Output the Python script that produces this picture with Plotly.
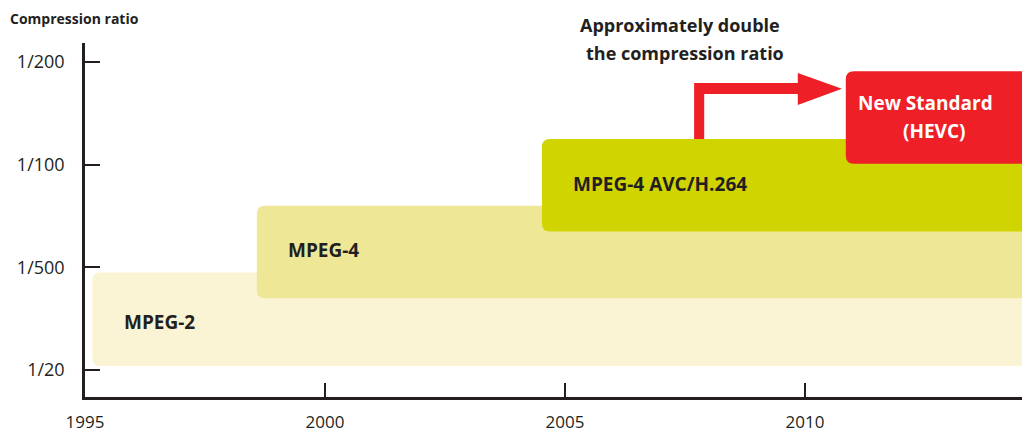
import plotly.graph_objects as go

# ---- data ----
standards = ["MPEG-2", "MPEG-4", "MPEG-4 AVC/H.264", "New Standard", "(HEVC)"]
start_year = [1995.15, 1998.58, 2004.52, 2010.85]
end_year = [2016.0, 2016.0, 2016.0, 2016.0]
level_low = [0.04, 0.70, 1.35, 2.01]
level_high = [0.95, 1.60, 2.25, 2.91]
fill_colors = ["#FAF4D4", "#EEE896", "#D0D400", "#EE1F26"]

y_tickvals = [0, 1, 2, 3]
y_ticktext = ["1/20", "1/500", "1/100", "1/200"]
x_tickvals = [1995, 2000, 2005, 2010]
x_ticktext = ["1995", "2000", "2005", "2010"]

# label positions (year, level)
label_x = [1995.77, 1999.19, 2005.13, 2012.50, 2012.70]
label_y = [0.47, 1.17, 1.81, 2.60, 2.33]

# window layout (the page body adds an 8px offset)
OFF = 8
AX_L, AX_R, AX_T, AX_B = 85, 1030, 43, 397
W, H = 1030 - OFF, 433 - OFF
ML, MR, MT, MB = AX_L - OFF, 0, AX_T - OFF, 433 - AX_B
px_per_year = 48.0
px_per_level = 102.67
x_range = [1995, 1995 + (AX_R - AX_L) / px_per_year]
y_range = [-(AX_B - 370) / px_per_level, 3 + (62 - AX_T) / px_per_level]

RX = 8 / px_per_year
RY = 8 / px_per_level


def paper_x(px):
    return (px - AX_L) / (AX_R - AX_L)


def paper_y(py):
    return (AX_B - py) / (AX_B - AX_T)


def rounded_rect(x0, x1, y0, y1, rx=RX, ry=RY):
    return (
        f"M {x0 + rx},{y0} L {x1 - rx},{y0} Q {x1},{y0} {x1},{y0 + ry} "
        f"L {x1},{y1 - ry} Q {x1},{y1} {x1 - rx},{y1} "
        f"L {x0 + rx},{y1} Q {x0},{y1} {x0},{y1 - ry} "
        f"L {x0},{y0 + ry} Q {x0},{y0} {x0 + rx},{y0} Z"
    )


fig = go.Figure()
fig.add_trace(go.Scatter(x=[1995, 2014], y=[0, 3], mode="markers",
                         marker=dict(opacity=0), hoverinfo="skip", showlegend=False))

shapes = []
for i in range(4):
    shapes.append(dict(type="path", xref="x", yref="y", layer="below",
                       path=rounded_rect(start_year[i], end_year[i], level_low[i], level_high[i]),
                       fillcolor=fill_colors[i], line=dict(width=0)))

# arrow from AVC block to the new standard
sx0, sx1 = 2007.69, 2007.90
bar_lo, bar_hi = 2.688, 2.795
head_x0, tip_x = 2009.85, 2010.77
head_lo, head_hi, tip_y = 2.581, 2.893, 2.740
arrow_path = (
    f"M {sx0},{level_high[2]} L {sx0},{bar_hi} L {head_x0},{bar_hi} L {head_x0},{head_hi} "
    f"L {tip_x},{tip_y} L {head_x0},{head_lo} L {head_x0},{bar_lo} L {sx1},{bar_lo} "
    f"L {sx1},{level_high[2]} Z"
)
shapes.append(dict(type="path", xref="x", yref="y", layer="below", path=arrow_path,
                   fillcolor="#EE1F26", line=dict(width=0)))

FONT = "Open Sans"
annotations = []
dark = "#231F20"
for i in range(3):
    annotations.append(dict(x=label_x[i], y=label_y[i], xref="x", yref="y", text=f"<b>{standards[i]}</b>",
                            showarrow=False, xanchor="left", yanchor="middle",
                            font=dict(family=FONT, size=19, color=dark)))
for i in (3, 4):
    annotations.append(dict(x=label_x[i], y=label_y[i], xref="x", yref="y", text=f"<b>{standards[i]}</b>",
                            showarrow=False, xanchor="center", yanchor="middle",
                            font=dict(family=FONT, size=19, color="white")))
annotations.append(dict(x=paper_x(680), y=paper_y(25), xref="paper", yref="paper",
                        text="<b>Approximately double</b>", showarrow=False,
                        xanchor="center", yanchor="middle",
                        font=dict(family=FONT, size=18, color=dark)))
annotations.append(dict(x=paper_x(685), y=paper_y(53), xref="paper", yref="paper",
                        text="<b>the compression ratio</b>", showarrow=False,
                        xanchor="center", yanchor="middle",
                        font=dict(family=FONT, size=18, color=dark)))
annotations.append(dict(x=paper_x(8), y=paper_y(18), xref="paper", yref="paper",
                        text="<b>Compression ratio</b>", showarrow=False,
                        xanchor="left", yanchor="middle",
                        font=dict(family=FONT, size=14, color=dark)))

fig.update_layout(
    width=W, height=H,
    margin=dict(l=ML, r=MR, t=MT, b=MB, pad=0, autoexpand=False),
    paper_bgcolor="white", plot_bgcolor="white",
    showlegend=False,
    shapes=shapes, annotations=annotations,
    xaxis=dict(range=x_range, tickvals=x_tickvals, ticktext=x_ticktext,
               ticks="inside", ticklen=14, tickwidth=1.5, tickcolor=dark,
               showline=True, linecolor=dark, linewidth=2.5, showgrid=False, zeroline=False,
               automargin=False,
               ticklabelstandoff=8, tickfont=dict(family=FONT, size=17, color=dark)),
    yaxis=dict(range=y_range, tickvals=y_tickvals, ticktext=y_ticktext,
               ticks="inside", ticklen=15, tickwidth=1.5, tickcolor=dark,
               showline=True, linecolor=dark, linewidth=2.5, showgrid=False, zeroline=False,
               automargin=False,
               ticklabelstandoff=14, tickfont=dict(family=FONT, size=18, color=dark)),
)

fig.write_html("out.html")
